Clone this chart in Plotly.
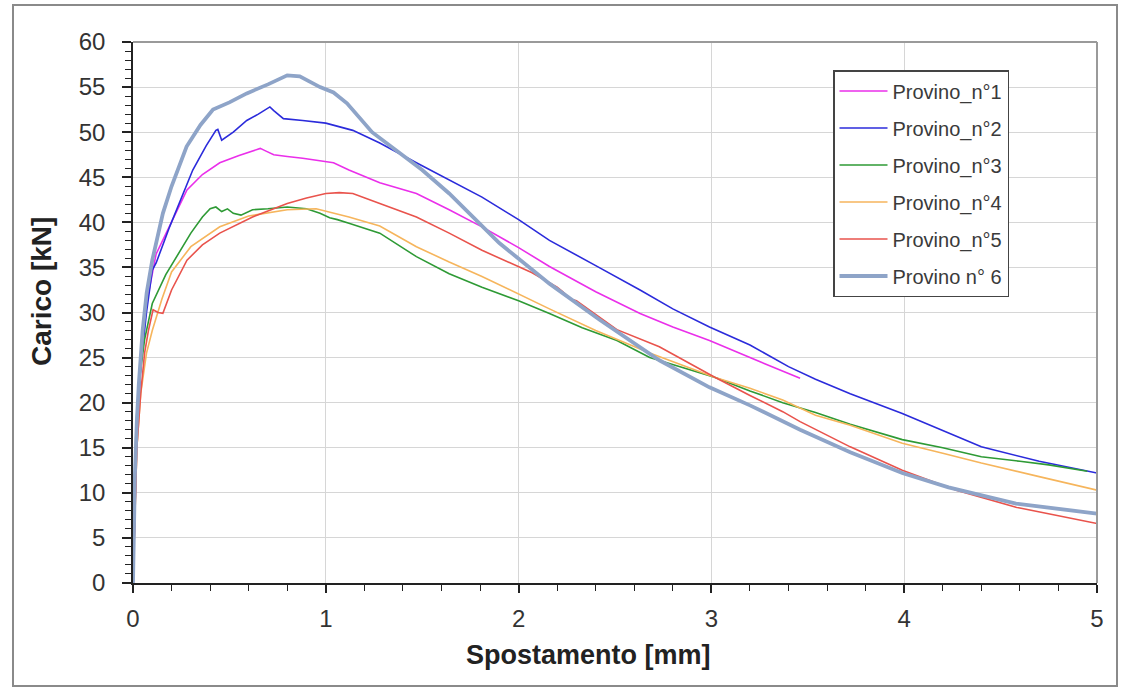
import plotly.graph_objects as go

# ---------------- data ----------------
names = ["Provino_n°1", "Provino_n°2", "Provino_n°3", "Provino_n°4", "Provino_n°5", "Provino n° 6"]

p1_x = [0, 0.01, 0.02, 0.04, 0.07, 0.12, 0.21, 0.28, 0.36, 0.45, 0.55, 0.66, 0.69, 0.73, 0.80, 0.88,
        1.04, 1.12, 1.28, 1.47, 1.64, 1.81, 2.0, 2.16, 2.40, 2.63, 2.80, 2.99, 3.2, 3.46]
p1_y = [0, 10, 17, 24, 31, 36.5, 40.6, 43.6, 45.3, 46.6, 47.4, 48.2, 47.9, 47.5, 47.3, 47.1,
        46.6, 45.8, 44.4, 43.2, 41.4, 39.5, 37.2, 35.1, 32.3, 29.9, 28.4, 26.9, 25.0, 22.7]

p2_x = [0, 0.01, 0.02, 0.04, 0.07, 0.10, 0.12, 0.19, 0.31, 0.38, 0.43, 0.44, 0.46, 0.52, 0.59, 0.65,
        0.71, 0.73, 0.76, 0.78, 0.88, 1.0, 1.14, 1.28, 1.47, 1.64, 1.81, 2.0, 2.16, 2.40, 2.63, 2.80,
        2.99, 3.20, 3.40, 3.54, 3.72, 3.99, 4.20, 4.40, 4.70, 5.0]
p2_y = [0, 9, 16, 24, 30, 34.7, 35.5, 39.5, 45.8, 48.5, 50.2, 50.3, 49.1, 50.0, 51.3, 52.0,
        52.8, 52.4, 51.8, 51.5, 51.3, 51.0, 50.2, 48.8, 46.6, 44.7, 42.8, 40.3, 38.0, 35.2, 32.5, 30.4,
        28.4, 26.4, 24.0, 22.6, 21.0, 18.8, 16.9, 15.1, 13.5, 12.2]

p3_x = [0, 0.005, 0.008, 0.01, 0.012, 0.015, 0.02, 0.03, 0.06, 0.10, 0.17, 0.24, 0.30, 0.36, 0.40,
        0.43, 0.46, 0.49, 0.52, 0.56, 0.62, 0.70, 0.80, 0.90, 0.97, 1.02, 1.06, 1.12, 1.28, 1.47, 1.64,
        1.81, 2.0, 2.16, 2.33, 2.51, 2.68, 3.02, 3.2, 3.37, 3.54, 3.72, 3.99, 4.20, 4.40, 4.60, 4.75, 4.95]
p3_y = [0, 6, 11, 14, 12, 17, 19, 22, 27, 31, 34.2, 36.6, 38.8, 40.6, 41.5,
        41.7, 41.2, 41.5, 41.0, 40.8, 41.4, 41.5, 41.7, 41.5, 41.0, 40.5, 40.3, 39.9, 38.8, 36.2, 34.3,
        32.8, 31.3, 29.9, 28.3, 26.9, 25.0, 22.8, 21.3, 20.0, 18.9, 17.6, 15.9, 15.0, 14.0, 13.5, 13.1, 12.4]

p4_x = [0, 0.01, 0.02, 0.04, 0.07, 0.10, 0.15, 0.20, 0.30, 0.45, 0.60, 0.80, 0.95, 1.12, 1.28, 1.47,
        1.64, 1.81, 2.0, 2.16, 2.40, 2.68, 3.02, 3.2, 3.37, 3.54, 3.72, 3.99, 4.20, 4.40, 4.70, 5.0]
p4_y = [0, 8, 15, 21, 25.5, 28, 31.5, 34.5, 37.3, 39.5, 40.7, 41.4, 41.5, 40.6, 39.6, 37.3,
        35.6, 34.0, 32.0, 30.4, 28.0, 25.5, 22.8, 21.6, 20.3, 18.6, 17.5, 15.5, 14.4, 13.3, 11.8, 10.3]

p5_x = [0, 0.01, 0.02, 0.04, 0.06, 0.08, 0.104, 0.13, 0.155, 0.20, 0.28, 0.36, 0.45, 0.62, 0.80, 0.90,
        1.0, 1.07, 1.14, 1.28, 1.47, 1.64, 1.81, 2.07, 2.16, 2.20, 2.23, 2.27, 2.30, 2.51, 2.73, 3.02,
        3.2, 3.37, 3.46, 3.72, 3.99, 4.27, 4.58, 5.0]
p5_y = [0, 8, 15, 21, 25.5, 28, 30.3, 30.0, 29.9, 32.5, 35.8, 37.5, 38.8, 40.6, 42.1, 42.7,
        43.2, 43.3, 43.2, 42.1, 40.6, 38.8, 36.9, 34.4, 33.3, 32.8, 32.3, 31.5, 31.3, 28.1, 26.2, 22.8,
        20.8, 19.0, 17.9, 15.1, 12.5, 10.3, 8.4, 6.6]

p6_x = [0, 0.005, 0.01, 0.02, 0.03, 0.05, 0.071, 0.10, 0.155, 0.20, 0.278, 0.35, 0.415, 0.50, 0.59,
        0.70, 0.80, 0.865, 0.97, 1.04, 1.11, 1.24, 1.38, 1.50, 1.64, 1.90, 2.16, 2.42, 2.73, 2.99, 3.2,
        3.46, 3.72, 3.99, 4.23, 4.58, 5.0]
p6_y = [0, 6, 12, 18, 22, 28, 32.2, 35.8, 41, 44.0, 48.4, 50.8, 52.5, 53.3, 54.3,
        55.3, 56.3, 56.2, 55.0, 54.4, 53.2, 50.0, 47.7, 45.8, 43.2, 37.7, 33.2, 29.2, 24.7, 21.7, 19.7,
        17.0, 14.5, 12.2, 10.6, 8.8, 7.7]

xs = [p1_x, p2_x, p3_x, p4_x, p5_x, p6_x]
ys = [p1_y, p2_y, p3_y, p4_y, p5_y, p6_y]

x_ticks = [0, 1, 2, 3, 4, 5]
y_ticks = [0, 5, 10, 15, 20, 25, 30, 35, 40, 45, 50, 55, 60]

# ---------------- styling ----------------
colors = ["#EA2FEA", "#2B2BDB", "#2E9A35", "#F6B55C", "#E9534C", "#8EA4C8"]
widths = [1.6, 1.6, 1.6, 1.6, 1.6, 3.8]
FONT = "Liberation Sans, Arial, sans-serif"

fig = go.Figure()
for i in range(6):
    fig.add_trace(go.Scatter(
        x=xs[i], y=ys[i], mode="lines", name=names[i], legendgroup=names[i],
        line=dict(color=colors[i], width=widths[i]),
    ))

L, R, T, B = 133, 1097, 42, 583
W, H = 1124, 689
pw, ph = R - L, B - T

def px(xp):
    return (xp - L) / pw

def py(yp):
    return (B - yp) / ph

fig.update_layout(
    width=W, height=H,
    margin=dict(l=L, r=W - R, t=T, b=H - B, autoexpand=False),
    paper_bgcolor="white", plot_bgcolor="white",
    font=dict(family=FONT, color="#333333"),
    showlegend=True,
    legend=dict(
        x=px(833), y=py(70), xanchor="left", yanchor="top",
        bgcolor="white", bordercolor="#444444", borderwidth=1.5,
        font=dict(size=20, color="#3a3a3a", family=FONT),
        tracegroupgap=8, traceorder="grouped", itemwidth=48,
    ),
    xaxis=dict(
        range=[0, 5], tickvals=x_ticks, ticktext=[str(v) for v in x_ticks],
        showgrid=True, gridcolor="#D6D6D6", gridwidth=1,
        showline=True, linecolor="#222222", linewidth=1.5,
        ticks="outside", ticklen=8, tickcolor="#222222", tickwidth=1.5,
        ticklabelstandoff=5,
        tickfont=dict(size=24, color="#333333"),
        minor=dict(dtick=0.2, ticks="outside", ticklen=6, tickcolor="#222222", tickwidth=1.2, showgrid=False),
        zeroline=False, fixedrange=True,
    ),
    yaxis=dict(
        range=[0, 60], tickvals=y_ticks, ticktext=[str(v) for v in y_ticks],
        showgrid=True, gridcolor="#D6D6D6", gridwidth=1,
        showline=True, linecolor="#222222", linewidth=1.5,
        ticks="outside", ticklen=9, tickcolor="#222222", tickwidth=1.5,
        ticklabelstandoff=12,
        tickfont=dict(size=24, color="#333333"),
        minor=dict(dtick=1, ticks="outside", ticklen=6, tickcolor="#222222", tickwidth=1.2, showgrid=False),
        zeroline=False, fixedrange=True,
    ),
    annotations=[
        dict(text="<b>Spostamento [mm]</b>", x=px(588), y=py(655), xref="paper", yref="paper",
             showarrow=False, font=dict(size=27, color="#222222", family=FONT),
             xanchor="center", yanchor="middle"),
        dict(text="<b>Carico [kN]</b>", x=px(41), y=py(292), xref="paper", yref="paper",
             showarrow=False, textangle=-90, font=dict(size=28, color="#222222", family=FONT),
             xanchor="center", yanchor="middle"),
    ],
    shapes=[
        # outer frame
        dict(type="rect", xref="paper", yref="paper", x0=px(13), x1=px(1117), y0=py(686), y1=py(5),
             line=dict(color="#8a8a8a", width=2), layer="below"),
        # top and right plot border
        dict(type="line", xref="paper", yref="paper", x0=0, x1=1, y0=1, y1=1,
             line=dict(color="#9a9a9a", width=2)),
        dict(type="line", xref="paper", yref="paper", x0=1, x1=1, y0=0, y1=1,
             line=dict(color="#9a9a9a", width=2)),
    ],
)

fig.write_html("out.html", config={"displayModeBar": False},
               post_script="document.body.style.margin='0px';")
